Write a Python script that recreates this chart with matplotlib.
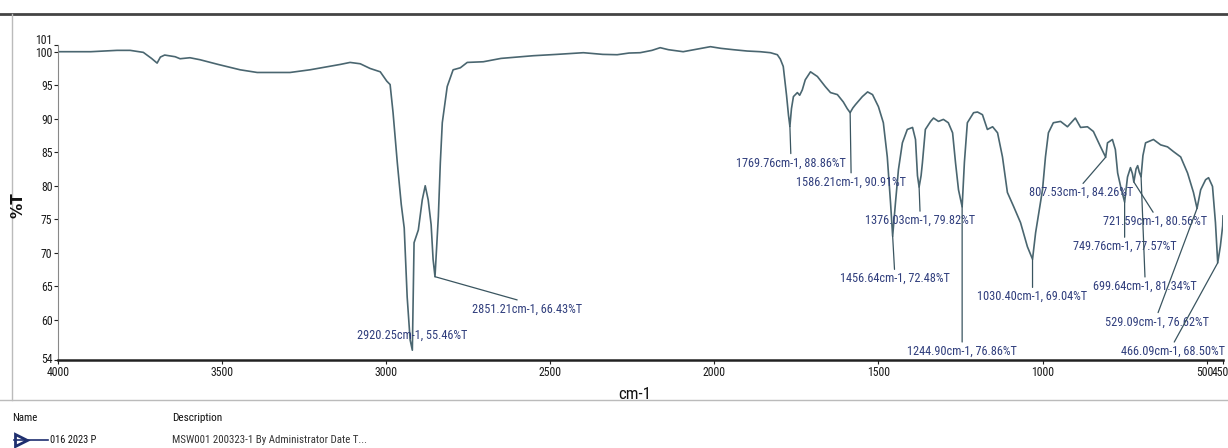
import matplotlib
matplotlib.use("Agg")
import matplotlib.pyplot as plt
from matplotlib import font_manager
from matplotlib.font_manager import FontProperties
from matplotlib.lines import Line2D
from matplotlib.transforms import ScaledTranslation

# ---- data ----
wavenumber = [4000, 3900, 3820, 3780, 3740, 3715, 3698, 3688, 3675, 3643, 3628, 3598, 3567,
              3512, 3445, 3393, 3293, 3232, 3140, 3110, 3079, 3049, 3018, 2998, 2988, 2979,
              2966, 2954, 2945, 2936, 2927, 2920.25, 2915, 2902, 2890, 2881, 2872, 2863, 2857,
              2851.21, 2845, 2841, 2835, 2829, 2814, 2796, 2774, 2753, 2704, 2650, 2552, 2480,
              2399, 2340, 2296, 2260, 2226, 2190, 2165, 2140, 2095, 2050, 2012, 1980, 1942,
              1900, 1860, 1829, 1808, 1799, 1790, 1780, 1774, 1769.76, 1765, 1759, 1747, 1740,
              1732, 1723, 1707, 1686, 1662, 1646, 1625, 1607, 1595, 1586.21, 1578, 1570, 1549,
              1533, 1518, 1500, 1485, 1473, 1463, 1456.64, 1448, 1439, 1427, 1412, 1396, 1387,
              1381, 1376.03, 1370, 1366, 1357, 1341, 1332, 1317, 1302, 1287, 1274, 1265, 1256,
              1244.90, 1238, 1229, 1210, 1198, 1183, 1168, 1152, 1137, 1122, 1107, 1088, 1067,
              1046, 1030.40, 1021, 1000, 991, 982, 967, 945, 924, 900, 884, 863, 845, 823,
              807.53, 802, 787, 778, 771, 762, 749.76, 741, 732, 726, 721.59, 715, 710, 705,
              699.64, 694, 686, 662, 640, 619, 601, 579, 558, 540, 529.09, 518, 503, 494, 482,
              473, 466.09, 458, 451, 450]
transmittance = [100.0, 100.0, 100.2, 100.2, 99.9, 99.0, 98.3, 99.2, 99.5, 99.25, 98.95, 99.1, 98.8,
                 98.1, 97.3, 96.9, 96.9, 97.3, 98.1, 98.4, 98.2, 97.5, 97.0, 95.6, 95.1, 90.9,
                 83.4, 77.2, 73.7, 63.4, 57.0, 55.46, 71.5, 73.4, 77.9, 80.0, 77.9, 74.2, 69.0,
                 66.43, 72.0, 75.4, 83.4, 89.4, 94.8, 97.3, 97.6, 98.4, 98.5, 99.0, 99.4, 99.6,
                 99.85, 99.6, 99.55, 99.8, 99.85, 100.2, 100.6, 100.3, 100.0, 100.4, 100.75, 100.5, 100.3,
                 100.1, 100.0, 99.85, 99.55, 98.9, 97.8, 93.5, 90.5, 88.86, 91.5, 93.3, 93.9, 93.5,
                 94.3, 95.8, 97.0, 96.3, 94.8, 93.9, 93.6, 92.5, 91.5, 90.91, 91.6, 92.1, 93.3,
                 94.0, 93.6, 91.8, 89.4, 84.3, 77.4, 72.48, 77.5, 82.4, 86.4, 88.4, 88.7, 86.9,
                 81.5, 79.82, 81.5, 83.4, 88.4, 89.6, 90.1, 89.6, 89.9, 89.4, 87.9, 83.4, 79.4,
                 76.86, 83.5, 89.4, 90.9, 91.0, 90.6, 88.4, 88.8, 87.9, 84.3, 79.0, 76.9, 74.5,
                 70.9, 69.04, 73.0, 79.4, 84.3, 87.9, 89.4, 89.6, 88.8, 90.1, 88.7, 88.8, 88.1, 85.8,
                 84.26, 86.4, 86.9, 85.4, 81.9, 79.9, 77.57, 81.3, 82.7, 81.8, 80.56, 82.5, 83.0, 82.0,
                 81.34, 84.5, 86.4, 86.9, 86.1, 85.8, 85.1, 84.3, 81.9, 79.0, 76.62, 79.4, 80.9, 81.2, 79.9,
                 74.5, 68.50, 71.0, 74.0, 75.5]

peak_wn = [2920.25, 2851.21, 1769.76, 1586.21, 1376.03, 1456.64, 1244.90, 1030.40,
           807.53, 721.59, 749.76, 699.64, 529.09, 466.09]
peak_t = [55.46, 66.43, 88.86, 90.91, 79.82, 72.48, 76.86, 69.04,
          84.26, 80.56, 77.57, 81.34, 76.62, 68.50]

x_ticks = [4000, 3500, 3000, 2500, 2000, 1500, 1000, 500, 450]
y_ticks = [54, 60, 65, 70, 75, 80, 85, 90, 95, 100, 101]

# label offsets in pixels (layout only); first label sits on the peak
label_offsets = [(0, 15), (92, -26), (1, -30), (1, -63), (1, -27), (2, -36), (0, -138), (0, -31),
                 (-25, -29), (21, -33), (0, -38), (4, -103), (-40, -107), (-45, -82)]

# ---- font: prefer a narrow/condensed face, else Liberation Sans ----
def pick_font():
    prefs = ["LiberationSansNarrow-Regular", "RobotoCondensed-Regular", "DejaVuSansCondensed.ttf",
             "Roboto_Condensed", "OpenSans_Condensed-Regular", "OpenSansCondensed"]
    fl = font_manager.fontManager.ttflist
    for p in prefs:
        for f in fl:
            if p.lower() in f.fname.lower() and "bold" not in f.fname.lower() \
                    and "oblique" not in f.fname.lower() and "italic" not in f.fname.lower():
                return FontProperties(fname=f.fname)
    for f in fl:
        n = f.fname.lower()
        if ("narrow" in n or "condensed" in n) and "bold" not in n and "italic" not in n \
                and "oblique" not in n and "light" not in n and f.name in (
                    "DejaVu Sans", "Liberation Sans Narrow", "Roboto Condensed", "Noto Sans",
                    "Open Sans", "Roboto", "Lato", "Inter"):
            return FontProperties(fname=f.fname)
    return FontProperties(family="Liberation Sans")

FP = pick_font()

W, H = 1228, 448
fig = plt.figure(figsize=(W / 100, H / 100), dpi=100)
renderer = fig.canvas.get_renderer()


def size_for(sample, width_px, fp=FP):
    t = fig.text(0, 0, sample, fontproperties=fp, fontsize=10)
    w = t.get_window_extent(renderer).width
    t.remove()
    return 10.0 * width_px / w


ann_size = size_for("2920.25cm-1, 55.46%T", 110)
tick_size = size_for("3500", 23)

ax = fig.add_axes([58 / W, 1 - 360 / H, (1223 - 58) / W, (360 - 45) / H])

line_color = "#4a6670"
ax.plot(wavenumber, transmittance, color=line_color, lw=1.2)
ax.set_xlim(4000, 450)
ax.set_ylim(54, 101)
ax.set_xticks(x_ticks)
ax.set_xticklabels([str(v) for v in x_ticks])
ax.set_yticks(y_ticks)
ax.set_yticklabels([str(v) for v in y_ticks])
ax.tick_params(axis="both", length=3, width=0.8, pad=1, colors="#222222")
for lab in ax.get_xticklabels() + ax.get_yticklabels():
    lab.set_fontproperties(FP)
    lab.set_fontsize(tick_size)
    lab.set_color("#1a1a1a")
# 101 label sits a bit above its tick, 450 label nudged left as in the reference
ylabs = ax.get_yticklabels()
ylabs[-1].set_transform(ylabs[-1].get_transform() + ScaledTranslation(0, 6 / 100, fig.dpi_scale_trans))
ylabs[0].set_transform(ylabs[0].get_transform() + ScaledTranslation(0, 2 / 100, fig.dpi_scale_trans))
xlabs = ax.get_xticklabels()
xlabs[-1].set_transform(xlabs[-1].get_transform() + ScaledTranslation(-3 / 100, 0, fig.dpi_scale_trans))
xlabs[-2].set_transform(xlabs[-2].get_transform() + ScaledTranslation(-2 / 100, 0, fig.dpi_scale_trans))

for s in ("top", "right"):
    ax.spines[s].set_visible(False)
ax.spines["bottom"].set_linewidth(1.8)
ax.spines["bottom"].set_color("#222222")
ax.spines["left"].set_linewidth(0.8)
ax.spines["left"].set_color("#888888")

label_color = "#2f3d7c"
for i, (wn, t, (dx, dy)) in enumerate(zip(peak_wn, peak_t, label_offsets)):
    txt = f"{wn:.2f}cm-1, {t:.2f}%T"
    if i == 0:
        ax.annotate(txt, xy=(wn, t), xytext=(dx, dy), textcoords="offset pixels",
                    ha="center", va="center", fontproperties=FP, fontsize=ann_size,
                    color=label_color, annotation_clip=False)
    else:
        ax.annotate(txt, xy=(wn, t), xytext=(dx, dy), textcoords="offset pixels",
                    ha="center", va="top", fontproperties=FP, fontsize=ann_size,
                    color=label_color, annotation_clip=False,
                    arrowprops=dict(arrowstyle="-", color="#3a5560", lw=0.9,
                                    shrinkA=0, shrinkB=0, relpos=(0.5, 1.0)))

fig.text(635 / W, 1 - 394 / H, "cm-1", ha="center", va="center", fontproperties=FP,
         fontsize=size_for("cm-1", 33), color="#111111")
fig.text(18 / W, 1 - 205 / H, "%T", ha="center", va="center", rotation=90,
         fontsize=11, fontweight="bold", color="#111111")

# window frame and bottom panel
fig.add_artist(Line2D([0, 1], [1 - 14 / H, 1 - 14 / H], transform=fig.transFigure,
                      color="#444444", lw=2))
fig.add_artist(Line2D([12 / W, 12 / W], [1 - 14 / H, 1 - 400 / H], transform=fig.transFigure,
                      color="#bbbbbb", lw=1))
fig.add_artist(Line2D([0, 1], [1 - 400 / H, 1 - 400 / H], transform=fig.transFigure,
                      color="#bbbbbb", lw=1))
fig.text(12 / W, 1 - 418 / H, "Name", ha="left", va="center", fontproperties=FP,
         fontsize=size_for("Name", 25), color="#111111")
fig.text(172 / W, 1 - 418 / H, "Description", ha="left", va="center", fontproperties=FP,
         fontsize=size_for("Description", 50), color="#111111")
fig.add_artist(Line2D([14 / W, 48 / W], [1 - 440 / H, 1 - 440 / H], transform=fig.transFigure,
                      color="#1f2f6f", lw=1.2))
fig.add_artist(Line2D([21 / W], [1 - 440 / H], transform=fig.transFigure, marker=">",
                      markersize=9, color="#1f2f6f", markerfacecolor="none", markeredgewidth=2))
fig.text(50 / W, 1 - 440 / H, "016 2023 P", ha="left", va="center", fontproperties=FP,
         fontsize=size_for("016 2023 P", 46), color="#111111")
fig.text(172 / W, 1 - 440 / H, "MSW001 200323-1 By Administrator Date T...", ha="left",
         va="center", fontproperties=FP,
         fontsize=size_for("MSW001 200323-1 By Administrator Date T...", 192), color="#333333")

fig.savefig("out.png", dpi=100)
